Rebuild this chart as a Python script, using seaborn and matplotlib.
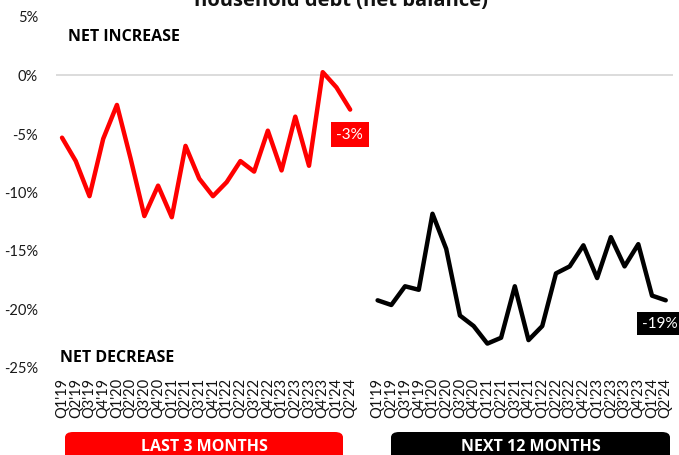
import matplotlib
matplotlib.use("Agg")
import matplotlib.pyplot as plt
from matplotlib.patches import FancyBboxPatch
import seaborn as sns
import pandas as pd

quarters = ["Q1'19", "Q2'19", "Q3'19", "Q4'19", "Q1'20", "Q2'20", "Q3'20", "Q4'20",
            "Q1'21", "Q2'21", "Q3'21", "Q4'21", "Q1'22", "Q2'22", "Q3'22", "Q4'22",
            "Q1'23", "Q2'23", "Q3'23", "Q4'23", "Q1'24", "Q2'24"]
last_3_months = [-5.4, -7.4, -10.4, -5.5, -2.6, -7.2, -12.1, -9.5, -12.2, -6.1, -8.9,
                 -10.4, -9.2, -7.4, -8.3, -4.8, -8.2, -3.6, -7.8, 0.2, -1.1, -3.0]
next_12_months = [-19.3, -19.7, -18.1, -18.4, -11.9, -14.9, -20.6, -21.5, -23.0, -22.5,
                  -18.1, -22.7, -21.5, -17.0, -16.4, -14.6, -17.4, -13.9, -16.4, -14.5,
                  -18.9, -19.3]
panel_titles = ["LAST 3 MONTHS", "NEXT 12 MONTHS"]
y_ticks = [5, 0, -5, -10, -15, -20, -25]

sns.set_theme(style="white")
plt.rcParams["font.family"] = ["Lato", "DejaVu Sans"]
BOLD = ["Open Sans", "DejaVu Sans"]

n = len(quarters)
gap = 1
pos_last = list(range(n))
pos_next = [n + gap + i for i in range(n)]

df = pd.DataFrame({
    "pos": pos_last + pos_next,
    "value": last_3_months + next_12_months,
    "series": [panel_titles[0]] * n + [panel_titles[1]] * n,
})

fig = plt.figure(figsize=(6.79, 4.56), dpi=100)
ax = fig.add_axes([56 / 679, 1 - 368 / 456, 617 / 679, 351 / 456])

ax.axhline(0, color="#d9d9d9", lw=1.3, zorder=0)
sns.lineplot(data=df, x="pos", y="value", hue="series",
             palette={panel_titles[0]: "#ff0000", panel_titles[1]: "#000000"},
             lw=3.2, legend=False, ax=ax, sort=False,
             units="series", estimator=None)

ax.set_xlim(-0.44, 2 * n + gap - 1 + 0.53)
ax.set_ylim(-25, 5)
ax.set_yticks(y_ticks)
ax.set_yticklabels([f"{t}%" for t in y_ticks], fontsize=10.5, color="#1a1a1a")
ax.set_xticks(pos_last + pos_next)
ax.set_xticklabels(quarters + quarters, rotation=90, fontsize=10.5, color="#111111")
ax.tick_params(axis="y", length=0, pad=13)
ax.tick_params(axis="x", length=0, pad=7)
ax.set_xlabel("")
ax.set_ylabel("")
for s in ax.spines.values():
    s.set_visible(False)

ax.text(0.45, 3.25, "NET INCREASE", fontsize=11.5, fontweight="bold", family=BOLD,
        color="#000000", va="center", ha="left")
ax.text(-0.15, -24.15, "NET DECREASE", fontsize=11.5, fontweight="bold", family=BOLD,
        color="#000000", va="center", ha="left")

# End-of-series value tags
ax.text(pos_last[-1] - 1.0, last_3_months[-1] - 2.1, f"{last_3_months[-1]:.0f}%",
        fontsize=11, color="white", ha="left", va="center",
        bbox=dict(boxstyle="square,pad=0.35", fc="#ff0000", ec="none"))
ax.text(pos_next[-1] - 1.75, next_12_months[-1] - 1.95, f"{next_12_months[-1]:.0f}%",
        fontsize=11, color="white", ha="left", va="center",
        bbox=dict(boxstyle="square,pad=0.3", fc="#000000", ec="none"))

# Panel banners below the axis
for (x0, x1), label, col in [((65, 343), panel_titles[0], "#ff0000"),
                             ((391, 670), panel_titles[1], "#000000")]:
    fx0, fx1 = x0 / 679, x1 / 679
    fy0 = 1 - 470 / 456
    fy1 = 1 - 433 / 456
    patch = FancyBboxPatch((fx0, fy0), fx1 - fx0, fy1 - fy0,
                           boxstyle="round,pad=0,rounding_size=0.012",
                           transform=fig.transFigure, fc=col, ec="none",
                           clip_on=False)
    fig.add_artist(patch)
    fig.text((fx0 + fx1) / 2, 1 - 447 / 456, label, fontsize=11.5,
             fontweight="bold", family=BOLD, color="white", ha="center", va="center")

fig.text(341 / 679, 1 - 6 / 456, "household debt (net balance)", fontsize=14.5,
         fontweight="bold", family=BOLD, color="#111111", ha="center", va="baseline")

fig.savefig("out.png", dpi=100)
